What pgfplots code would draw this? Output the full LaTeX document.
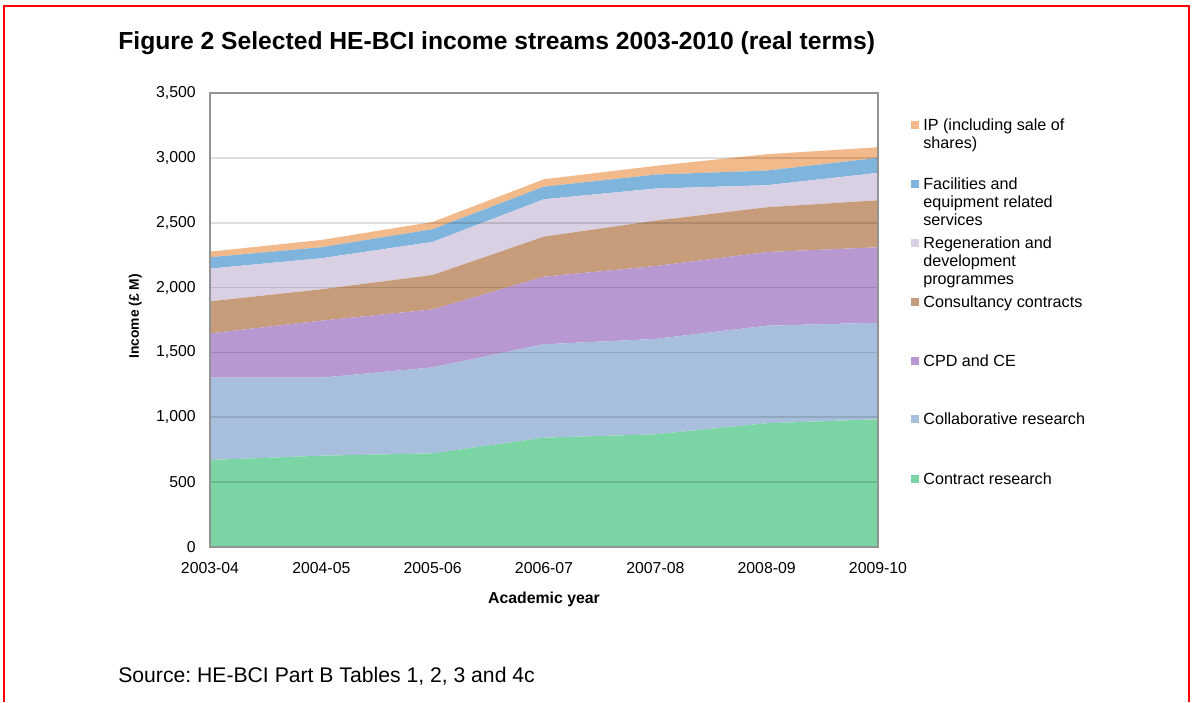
\documentclass[border=0pt]{standalone}
\usepackage{fontspec}
\setmainfont{Liberation Sans}
\usepackage{pgfplots}
\pgfplotsset{compat=1.18}
\usepackage{pgfplotstable}
\frenchspacing

\definecolor{cIP}{RGB}{242,185,138}
\definecolor{cFac}{RGB}{127,181,221}
\definecolor{cReg}{RGB}{217,208,227}
\definecolor{cCon}{RGB}{199,156,122}
\definecolor{cCPD}{RGB}{184,152,208}
\definecolor{cCol}{RGB}{167,191,220}
\definecolor{cCR}{RGB}{122,212,163}

\pgfplotstableread{
x contract collab cpd consult regen facil ip
0 671 634 342 247 252 88 43
1 704 601 440 242 239 85 56
2 722 663 447 265 255 98 56
3 843 720 521 309 288 97 57
4 869 735 562 350 247 108 67
5 954 752 568 345 170 113 126
6 985 744 582 362 211 116 82
}\datatable

\begin{document}
\begin{tikzpicture}
\path[use as bounding box] (0pt,0pt) rectangle (716.4pt,421.2pt);
\draw[red, line width=1.2pt] (2.4pt,0pt) -- (2.4pt,417.6pt) -- (713.4pt,417.6pt) -- (713.4pt,0pt);

\node[anchor=base west, inner sep=0, font=\fontsize{14.8}{17}\selectfont\bfseries] at (70.8pt,391.2pt)
  {Figure 2 Selected HE-BCI income streams 2003-2010 (real terms)};
\node[anchor=base west, inner sep=0, font=\fontsize{12.7}{15}\selectfont] at (70.8pt,11.7pt)
  {Source: HE-BCI Part B Tables 1, 2, 3 and 4c};

\begin{axis}[
  at={(126pt,93pt)}, anchor=south west,
  scale only axis, width=400.8pt, height=272.4pt,
  xmin=0, xmax=6, ymin=0, ymax=3500,
  xtick={0,...,6},
  xticklabels={2003-04,2004-05,2005-06,2006-07,2007-08,2008-09,2009-10},
  ytick={0,500,...,3500},
  major tick length=0pt,
  /pgf/number format/assume math mode=true,
  /pgf/number format/1000 sep={,},
  ticklabel style={font=\fontsize{9.5}{11}\selectfont},
  xticklabel style={yshift=-6pt},
  yticklabel style={xshift=-5pt},
  axis line style={draw=gray!85, line width=0.8pt},
  ymajorgrids,
  major grid style={draw=black, opacity=0.13, line width=1pt},
  axis on top,
  stack plots=y,
  xlabel={Academic year},
  ylabel={Income (£ M)},
  xlabel style={font=\fontsize{9.5}{11}\selectfont\bfseries, at={(axis description cs:0.5,-0.1145)}, anchor=center},
  ylabel style={font=\fontsize{8.3}{10}\selectfont\bfseries, at={(axis description cs:-0.112,0.508)}, anchor=center},
]
\addplot[fill=cCR, draw=none] table[x=x,y=contract]{\datatable} \closedcycle;
\addplot[fill=cCol, draw=none] table[x=x,y=collab]{\datatable} \closedcycle;
\addplot[fill=cCPD, draw=none] table[x=x,y=cpd]{\datatable} \closedcycle;
\addplot[fill=cCon, draw=none] table[x=x,y=consult]{\datatable} \closedcycle;
\addplot[fill=cReg, draw=none] table[x=x,y=regen]{\datatable} \closedcycle;
\addplot[fill=cFac, draw=none] table[x=x,y=facil]{\datatable} \closedcycle;
\addplot[fill=cIP, draw=none] table[x=x,y=ip]{\datatable} \closedcycle;
\end{axis}

\begin{scope}[every node/.style={anchor=base west, inner sep=0, font=\fontsize{9.7}{11}\selectfont}]
\foreach \c/\b in {cIP/342.9, cFac/307.5, cReg/272.1, cCon/236.7, cCPD/201.3, cCol/166.5, cCR/130.5}{
  \fill[\c] (546.6pt,\b pt+0.9pt) rectangle ++(4.8pt,4.8pt);
}
\node at (553.8pt,342.9pt) {IP (including sale of};
\node at (553.8pt,332.1pt) {shares)};
\node at (553.8pt,307.5pt) {Facilities and};
\node at (553.8pt,296.7pt) {equipment related};
\node at (553.8pt,285.9pt) {services};
\node at (553.8pt,272.1pt) {Regeneration and};
\node at (553.8pt,261.3pt) {development};
\node at (553.8pt,250.5pt) {programmes};
\node at (553.8pt,236.7pt) {Consultancy contracts};
\node at (553.8pt,201.3pt) {CPD and CE};
\node at (553.8pt,166.5pt) {Collaborative research};
\node at (553.8pt,130.5pt) {Contract research};
\end{scope}
\end{tikzpicture}
\end{document}
